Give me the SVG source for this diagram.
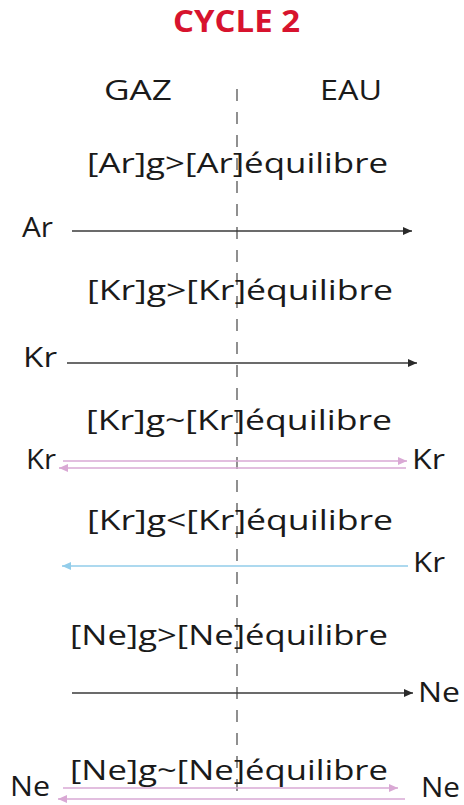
<svg xmlns="http://www.w3.org/2000/svg" width="464" height="805" viewBox="0 0 464 805">
<style>
text{font-family:"Open Sans","Liberation Sans",sans-serif;fill:#1a1a1a;}
.title{font-weight:bold;font-size:30px;fill:#d7132e;}
.hdr{font-size:28px;}
.eq{font-size:28px;}
.lbl{font-size:27px;}
.dk{stroke:#3a3a3a;stroke-width:1.4;fill:none;}
.pk{stroke:#d9a8d4;stroke-width:1.4;fill:none;}
.bl{stroke:#92cdea;stroke-width:1.6;fill:none;}
</style>
<defs>
<marker id="aDk" markerUnits="userSpaceOnUse" markerWidth="10" markerHeight="8" refX="9" refY="4" orient="auto"><path d="M0,0 L9,4 L0,8 Z" fill="#2a2a2a"/></marker>
<marker id="aPk" markerUnits="userSpaceOnUse" markerWidth="10" markerHeight="8" refX="9" refY="4" orient="auto"><path d="M0,0 L9,4 L0,8 Z" fill="#d9a8d4"/></marker>
<marker id="aBl" markerUnits="userSpaceOnUse" markerWidth="10" markerHeight="8" refX="9" refY="4" orient="auto"><path d="M0,0 L9,4 L0,8 Z" fill="#92cdea"/></marker>
</defs>
<rect width="464" height="805" fill="#ffffff"/>
<g id="title"><text class="title" x="173" y="32" textLength="127" lengthAdjust="spacingAndGlyphs">CYCLE 2</text></g>
<g id="gaz"><text class="hdr" x="104" y="100" textLength="68" lengthAdjust="spacingAndGlyphs">GAZ</text></g>
<g id="eau"><text class="hdr" x="320" y="100" textLength="62" lengthAdjust="spacingAndGlyphs">EAU</text></g>
<g id="divider"><line x1="237" y1="89" x2="237" y2="792" stroke="#555" stroke-width="1.3" stroke-dasharray="12 11"/></g>
<g id="eq1"><text class="eq" x="87" y="173" textLength="301" lengthAdjust="spacingAndGlyphs">[Ar]g&gt;[Ar]équilibre</text></g>
<g id="ar"><text class="lbl" x="22" y="237" textLength="31" lengthAdjust="spacingAndGlyphs">Ar</text></g>
<g id="eq2"><text class="eq" x="87" y="300" textLength="306" lengthAdjust="spacingAndGlyphs">[Kr]g&gt;[Kr]équilibre</text></g>
<g id="kr1"><text class="lbl" x="23" y="367" textLength="34" lengthAdjust="spacingAndGlyphs">Kr</text></g>
<g id="eq3"><text class="eq" x="86" y="430" textLength="306" lengthAdjust="spacingAndGlyphs">[Kr]g~[Kr]équilibre</text></g>
<g id="kr2l"><text class="lbl" x="26" y="469" textLength="30" lengthAdjust="spacingAndGlyphs">Kr</text></g>
<g id="kr2r"><text class="lbl" x="412" y="469" textLength="33" lengthAdjust="spacingAndGlyphs">Kr</text></g>
<g id="eq4"><text class="eq" x="87" y="530" textLength="306" lengthAdjust="spacingAndGlyphs">[Kr]g&lt;[Kr]équilibre</text></g>
<g id="kr3"><text class="lbl" x="413" y="572" textLength="32" lengthAdjust="spacingAndGlyphs">Kr</text></g>
<g id="eq5"><text class="eq" x="70" y="645" textLength="318" lengthAdjust="spacingAndGlyphs">[Ne]g&gt;[Ne]équilibre</text></g>
<g id="ne1"><text class="lbl" x="418" y="702" textLength="42" lengthAdjust="spacingAndGlyphs">Ne</text></g>
<g id="eq6"><text class="eq" x="70" y="780" textLength="318" lengthAdjust="spacingAndGlyphs">[Ne]g~[Ne]équilibre</text></g>
<g id="ne2l"><text class="lbl" x="10" y="796" textLength="40" lengthAdjust="spacingAndGlyphs">Ne</text></g>
<g id="ne2r"><text class="lbl" x="421" y="797" textLength="39" lengthAdjust="spacingAndGlyphs">Ne</text></g>
<g id="connectors">
<line class="dk" x1="72" y1="231" x2="412" y2="231" marker-end="url(#aDk)"/>
<line class="dk" x1="67" y1="363" x2="417" y2="363" marker-end="url(#aDk)"/>
<line class="pk" x1="63" y1="461" x2="407" y2="461" marker-end="url(#aPk)"/>
<line class="pk" x1="406" y1="468" x2="59" y2="468" marker-end="url(#aPk)"/>
<line class="bl" x1="408" y1="566" x2="62" y2="566" marker-end="url(#aBl)"/>
<line class="dk" x1="72" y1="693" x2="413" y2="693" marker-end="url(#aDk)"/>
<line class="pk" x1="63" y1="788" x2="398" y2="788" marker-end="url(#aPk)"/>
<line class="pk" x1="405" y1="799" x2="58" y2="799" marker-end="url(#aPk)"/>
</g>
</svg>
